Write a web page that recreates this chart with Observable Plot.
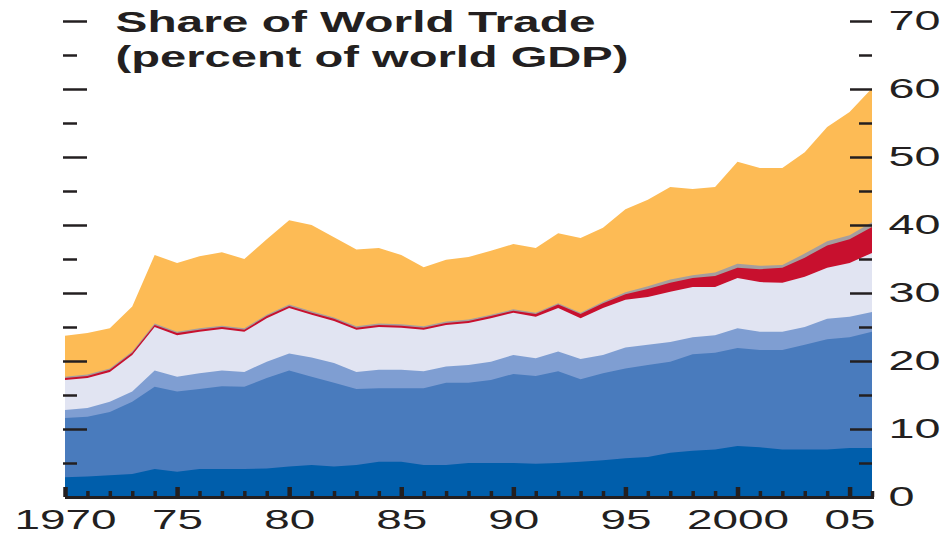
<!DOCTYPE html>
<html><head><meta charset="utf-8">
<script src="https://cdn.jsdelivr.net/npm/d3@7"></script>
<script src="https://cdn.jsdelivr.net/npm/@observablehq/plot@0.6"></script>
<style>html,body{margin:0;padding:0;background:#fff} svg{display:block}</style>
</head><body><div id="chart"></div>
<script>
// ---- data (cumulative boundaries, percent of world GDP) ----
const years = [1970,1971,1972,1973,1974,1975,1976,1977,1978,1979,1980,1981,1982,1983,1984,1985,1986,1987,1988,1989,1990,1991,1992,1993,1994,1995,1996,1997,1998,1999,2000,2001,2002,2003,2004,2005,2006];
const darkTop  = [2.9,3.0,3.2,3.4,4.1,3.7,4.1,4.1,4.1,4.2,4.5,4.7,4.5,4.7,5.2,5.2,4.7,4.7,5.0,5.0,5.0,4.9,5.0,5.2,5.4,5.7,5.9,6.5,6.8,7.0,7.5,7.3,7.0,7.0,7.0,7.2,7.2];
const medTop   = [11.6,11.8,12.5,14.0,16.2,15.5,15.9,16.3,16.2,17.5,18.6,17.7,16.8,15.9,16.0,16.0,16.0,16.8,16.8,17.2,18.1,17.8,18.5,17.3,18.2,18.9,19.4,19.9,21.0,21.2,21.9,21.6,21.6,22.4,23.2,23.5,24.3];
const lightTop = [12.8,13.1,14.0,15.5,18.6,17.7,18.2,18.6,18.4,19.9,21.1,20.5,19.7,18.4,18.7,18.7,18.5,19.2,19.4,19.9,20.9,20.4,21.4,20.3,20.9,22.0,22.4,22.8,23.5,23.8,24.8,24.3,24.3,25.0,26.2,26.5,27.2];
const lavTop   = [17.2,17.5,18.4,20.9,25.0,23.8,24.3,24.7,24.3,26.3,27.8,26.8,25.9,24.6,25.0,24.9,24.6,25.3,25.6,26.3,27.1,26.5,27.8,26.3,27.8,29.0,29.4,30.2,30.9,30.9,32.2,31.6,31.5,32.4,33.7,34.4,35.9];
const redTop   = [17.5,17.8,18.7,21.2,25.3,24.1,24.6,25.0,24.6,26.6,28.1,27.1,26.2,24.9,25.3,25.2,24.9,25.6,25.9,26.6,27.4,26.9,28.3,26.9,28.5,29.8,30.6,31.5,32.2,32.5,33.7,33.5,33.7,35.2,37.0,37.9,39.7];
const greyTop  = [17.7,18.0,18.9,21.4,25.5,24.3,24.8,25.2,24.8,26.8,28.3,27.3,26.4,25.1,25.5,25.4,25.1,25.8,26.1,26.8,27.6,27.1,28.5,27.1,28.7,30.1,31.0,32.0,32.6,33.0,34.3,34.0,34.1,35.8,37.6,38.5,40.4];
const totalTop = [23.7,24.1,24.8,28.0,35.6,34.4,35.4,36.0,35.0,37.9,40.7,40.0,38.2,36.4,36.6,35.6,33.8,34.9,35.3,36.2,37.2,36.6,38.8,38.1,39.6,42.3,43.7,45.6,45.3,45.6,49.3,48.4,48.4,50.7,54.4,56.6,60.1];

const layerTops   = [totalTop, greyTop, redTop, lavTop, lightTop, medTop, darkTop];
const layerColors = ["#fdbb55", "#a59e9e", "#c8102e", "#e1e4f2", "#7f9ed2", "#497bbd", "#005eab"];

const majorYears = [1970,1975,1980,1985,1990,1995,2000,2005];
const majorYearLabels = ["1970","75","80","85","90","95","2000","05"];
const minorYears = [1971,1972,1973,1974,1976,1977,1978,1979,1981,1982,1983,1984,1986,1987,1988,1989,1991,1992,1993,1994,1996,1997,1998,1999,2001,2002,2003,2004,2006];
const yMajor = [10,20,30,40,50,60,70];
const yMinor = [5,15,25,35,45,55,65];
const yLabels = [0,10,20,30,40,50,60,70];
const title1 = "Share of World Trade";
const title2 = "(percent of world GDP)";

// ---- chart ----
const W = 945, H = 537, mL = 65, mR = 73, mT = 21, mB = 40;
const fw = W - mL - mR, fh = H - mT - mB;
const ink = "#231f20";
const font = "'Liberation Sans', Arial, Helvetica, sans-serif";

const areas = layerTops.map((tops, k) =>
  Plot.areaY(years, {x: d => d, y1: 0, y2: (d, i) => tops[i], fill: layerColors[k], curve: "linear"})
);

const svg = Plot.plot({
  width: W, height: H,
  marginLeft: mL, marginRight: mR, marginTop: mT, marginBottom: mB,
  style: {fontFamily: font, background: "#fff", color: ink},
  x: {domain: [1970, 2006], axis: null},
  y: {domain: [0, 70], axis: null},
  marks: [
    ...areas,
    Plot.ruleY([0], {stroke: ink, strokeWidth: 3, insetRight: -2}),
    Plot.tickX(minorYears, {x: d => d, insetTop: fh - 6, stroke: ink, strokeWidth: 3.5}),
    Plot.tickX(majorYears, {x: d => d, insetTop: fh - 10, stroke: ink, strokeWidth: 4.5}),
    Plot.tickY(yMajor, {y: d => d, insetRight: fw - 22, insetLeft: -2, stroke: ink, strokeWidth: 2.5}),
    Plot.tickY(yMinor, {y: d => d, insetRight: fw - 12, insetLeft: -2, stroke: ink, strokeWidth: 2.5}),
    Plot.tickY(yMajor, {y: d => d, insetLeft: fw - 22, stroke: ink, strokeWidth: 2.5}),
    Plot.tickY(yMinor, {y: d => d, insetLeft: fw - 13, stroke: ink, strokeWidth: 2.5}),
    Plot.text(yLabels, {y: d => d, text: d => String(d), frameAnchor: "right", textAnchor: "start", dx: 16, fontSize: 28, fill: ink, ariaDescription: "ylabels"}),
    Plot.text(majorYears, {x: d => d, text: (d, i) => majorYearLabels[i], frameAnchor: "bottom", lineAnchor: "top", dy: 12, fontSize: 28, fill: ink, ariaDescription: "xlabels"}),
    Plot.text([title1], {text: d => d, frameAnchor: "top-left", textAnchor: "start", lineAnchor: "top", dx: 50, dy: -11, fontSize: 30, fontWeight: "bold", fill: ink, ariaDescription: "title1"}),
    Plot.text([title2], {text: d => d, frameAnchor: "top-left", textAnchor: "start", lineAnchor: "top", dx: 50, dy: 24, fontSize: 30, fontWeight: "bold", fill: ink, ariaDescription: "title2"})
  ]
});

const stretchLen = {
  ylabels: s => s.length * 26,
  xlabels: s => s.length * 25.5,
  title1: () => 480,
  title2: () => 513
};
Object.entries(stretchLen).forEach(([key, fn]) => {
  svg.querySelectorAll(`[aria-description="${key}"] text`).forEach(t => {
    t.setAttribute("textLength", fn(t.textContent));
    t.setAttribute("lengthAdjust", "spacingAndGlyphs");
  });
});

document.getElementById("chart").append(svg);
</script>
</body></html>
